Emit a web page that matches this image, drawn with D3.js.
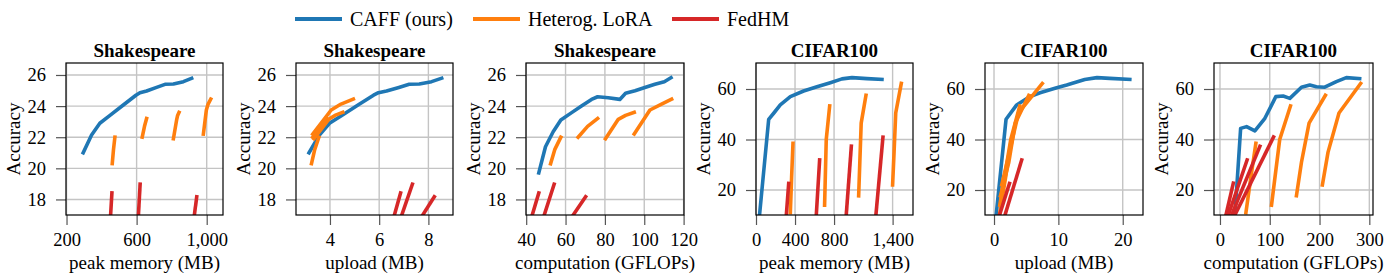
<!DOCTYPE html>
<html>
<head>
<meta charset="utf-8">
<script src="https://cdn.jsdelivr.net/npm/d3@7"></script>
<style>
  body { margin: 0; background: #fff; }
  svg, svg text { font-family: "Liberation Serif", "Times New Roman", Times, "Nimbus Roman", "DejaVu Serif", serif; }
  svg { display: block; }
</style>
</head>
<body>
<svg id="chart" width="1393" height="280"></svg>
<script>
// ---- data ([x, accuracy]) ----
const seriesNames = ['CAFF (ours)', 'Heterog. LoRA', 'FedHM'];
const seriesColors = ['#1f77b4', '#ff7f0e', '#d62728'];

// Shakespeare, peak memory (MB)
const shkMemCaff = [[295,21.0],[343,22.14],[390,22.9],[448,23.4],[524,24.07],[596,24.7],[619,24.86],[657,24.97],[714,25.2],[762,25.4],[810,25.42],[867,25.57],[914,25.79]];
const shkMemLora = [
  [[461,20.3],[468,21.2],[476,22.0]],
  [[632,22.0],[645,22.7],[657,23.2]],
  [[810,21.9],[829,23.15],[834,23.4],[842,23.6]],
  [[981,22.2],[998,23.75],[1008,24.13],[1023,24.45]]
];
const shkMemFedhm = [[[449,16.5],[459,18.42]], [[608,16.5],[620,18.98]], [[924,16.5],[943,18.17]]];

// Shakespeare, upload (MB)
const shkUpCaff = [[3.15,21.0],[3.57,22.14],[3.98,22.9],[4.48,23.4],[5.14,24.07],[5.77,24.7],[5.97,24.86],[6.30,24.97],[6.80,25.2],[7.22,25.4],[7.63,25.42],[8.13,25.57],[8.54,25.79]];
const shkUpLora = [
  [[3.25,20.3],[3.38,21.2],[3.55,22.0]],
  [[3.3,22.0],[3.6,22.7],[3.88,23.2]],
  [[3.35,21.9],[3.95,23.15],[4.2,23.4],[4.52,23.6]],
  [[3.3,22.2],[4.05,23.75],[4.45,24.13],[4.95,24.45]]
];
const shkUpFedhm = [[[6.53,16.5],[6.87,18.42]], [[6.81,16.5],[7.35,18.98]], [[7.57,16.5],[8.24,18.17]]];

// Shakespeare, computation (GFLOPs)
const shkCompCaff = [[46.4,19.71],[49.8,21.39],[53.7,22.35],[57.6,23.1],[63.1,23.58],[68.1,24.0],[73.2,24.43],[76.3,24.6],[81.7,24.54],[87.6,24.43],[90.5,24.82],[95.3,24.99],[100.3,25.2],[105.4,25.4],[110.2,25.57],[113.6,25.83]];
const shkCompLora = [
  [[52.4,20.3],[54.5,21.2],[57.6,22.0]],
  [[66.4,22.0],[71.2,22.7],[76.3,23.2]],
  [[80.3,21.9],[86.8,23.15],[90.5,23.4],[94.9,23.6]],
  [[94.9,22.2],[102.9,23.75],[108.8,24.13],[113.9,24.45]]
];
const shkCompFedhm = [[[41.9,16.5],[46.4,18.42]], [[47.9,16.5],[54.2,18.98]], [[61.2,16.5],[70.2,18.17]]];

// CIFAR100, peak memory (MB)
const cifMemCaff = [[31,8],[130,48.0],[181,50.4],[249,53.7],[352,57.0],[488,59.2],[625,60.9],[762,62.5],[881,64.0],[984,64.5],[1137,64.1],[1291,63.8]];
const cifMemLora = [
  [[352,11],[365,25],[379,38.5]],
  [[703,14],[720,40],[755,53.3]],
  [[1052,17.7],[1064,31],[1078,46.5],[1127,57.5]],
  [[1400,22],[1415,35],[1432,50.5],[1489,62.2]]
];
const cifMemFedhm = [[[301,5],[335,22.6]], [[610,5],[652,31.9]], [[915,5],[977,37.4]], [[1217,5],[1301,40.9]]];

// CIFAR100, upload (MB)
const cifUpCaff = [[0.25,8],[1.87,48.0],[3.52,53.7],[5.6,57.0],[7.15,58.5],[9.74,60.5],[11.3,61.6],[14.1,63.8],[16.0,64.5],[18.0,64.2],[21.1,63.8]];
const cifUpLora = [
  [[0.9,11],[1.8,25],[2.6,38.5]],
  [[0.9,14],[2.6,40],[4.0,53.3]],
  [[1.0,17.7],[2.3,31],[3.3,46.5],[5.4,57.5]],
  [[1.2,22],[2.4,35],[3.8,50.5],[7.5,62.2]]
];
const cifUpFedhm = [[[0.23,5],[2.4,22.6]], [[1.1,5],[4.3,31.9]]];

// CIFAR100, computation (GFLOPs)
const cifCompCaff = [[29.4,8],[41.5,44.4],[53.4,45.1],[70.1,43.4],[90.2,48.4],[112.2,57.0],[126.9,57.2],[140.3,56.3],[163.7,60.7],[180.4,61.6],[193.7,60.9],[210.4,60.7],[233.8,62.9],[253.8,64.5],[280.6,64.1]];
const cifCompLora = [
  [[52.1,11],[62,25],[72.1,38.5]],
  [[103.5,14],[120,40],[141.6,53.3]],
  [[153.6,17.7],[163.7,31],[179,46.5],[211.8,57.5]],
  [[205.7,22],[217.1,35],[239.1,50.5],[282.6,62.2]]
];
const cifCompFedhm = [[[6,5],[26.8,22.7]], [[8,5],[54.5,31.9]], [[12.7,5],[80.2,37.3]], [[17.2,5],[107.6,41]]];

// axis ticks
const shkYTicks = [18, 20, 22, 24, 26];
const cifYTicks = [20, 40, 60];
const shkMemTicks = [200, 600, 1000];
const shkUpTicks = [4, 6, 8];
const shkCompTicks = [40, 60, 80, 100, 120];
const cifMemTicks = [0, 400, 800, 1400];
const cifUpTicks = [0, 10, 20];
const cifCompTicks = [0, 100, 200, 300];

// ---- layout ----
const plotTop = 63, plotBottom = 215;
const serif = '"Liberation Serif", "Times New Roman", Times, "DejaVu Serif", serif';
const panels = [
  { title: 'Shakespeare', xLabel: 'peak memory (MB)', left: 66, right: 223, xDomain: [197, 1093], xTicks: shkMemTicks, yDomain: [17, 26.77], yTicks: shkYTicks, data: [[shkMemCaff], shkMemLora, shkMemFedhm] },
  { title: 'Shakespeare', xLabel: 'upload (MB)', left: 296, right: 453, xDomain: [2.62, 9.0], xTicks: shkUpTicks, yDomain: [17, 26.77], yTicks: shkYTicks, data: [[shkUpCaff], shkUpLora, shkUpFedhm] },
  { title: 'Shakespeare', xLabel: 'computation (GFLOPs)', left: 526, right: 684, xDomain: [39.9, 120.2], xTicks: shkCompTicks, yDomain: [17, 26.77], yTicks: shkYTicks, data: [[shkCompCaff], shkCompLora, shkCompFedhm] },
  { title: 'CIFAR100', xLabel: 'peak memory (MB)', left: 756, right: 913, xDomain: [0, 1609], xTicks: cifMemTicks, yDomain: [10.1, 70.3], yTicks: cifYTicks, data: [[cifMemCaff], cifMemLora, cifMemFedhm] },
  { title: 'CIFAR100', xLabel: 'upload (MB)', left: 985, right: 1143, xDomain: [-1.4, 23.15], xTicks: cifUpTicks, yDomain: [10.1, 70.3], yTicks: cifYTicks, data: [[cifUpCaff], cifUpLora, cifUpFedhm] },
  { title: 'CIFAR100', xLabel: 'computation (GFLOPs)', left: 1214, right: 1373, xDomain: [-12, 307.4], xTicks: cifCompTicks, yDomain: [10.1, 70.3], yTicks: cifYTicks, data: [[cifCompCaff], cifCompLora, cifCompFedhm] }
];

const svg = d3.select('#chart').attr('font-family', serif);
const defs = svg.append('defs');
const fmt = d3.format(',');

panels.forEach((p, i) => {
  const x = d3.scaleLinear().domain(p.xDomain).range([p.left, p.right]);
  const y = d3.scaleLinear().domain(p.yDomain).range([plotBottom, plotTop]);
  const g = svg.append('g');

  defs.append('clipPath').attr('id', 'clip' + i)
    .append('rect')
    .attr('x', p.left).attr('y', plotTop)
    .attr('width', p.right - p.left).attr('height', plotBottom - plotTop);

  // grid
  g.append('g').selectAll('line').data(p.xTicks).join('line')
    .attr('x1', d => x(d)).attr('x2', d => x(d))
    .attr('y1', plotTop).attr('y2', plotBottom)
    .attr('stroke', '#c4c4c4').attr('stroke-width', 1.4);
  g.append('g').selectAll('line').data(p.yTicks).join('line')
    .attr('x1', p.left).attr('x2', p.right)
    .attr('y1', d => y(d)).attr('y2', d => y(d))
    .attr('stroke', '#c4c4c4').attr('stroke-width', 1.4);

  // series lines: CAFF, Heterog. LoRA, FedHM
  const line = d3.line().x(d => x(d[0])).y(d => y(d[1]));
  const plot = g.append('g').attr('clip-path', `url(#clip${i})`);
  p.data.forEach((segs, s) => {
    plot.append('g').selectAll('path').data(segs).join('path')
      .attr('d', line)
      .attr('fill', 'none')
      .attr('stroke', seriesColors[s])
      .attr('stroke-width', 3.6)
      .attr('stroke-linejoin', 'round')
      .attr('stroke-linecap', 'square');
  });

  // axes
  const xAxis = g.append('g')
    .attr('transform', `translate(0,${plotBottom})`)
    .call(d3.axisBottom(x).tickValues(p.xTicks).tickFormat(fmt).tickSize(10).tickPadding(8));
  const yAxis = g.append('g')
    .attr('transform', `translate(${p.left},0)`)
    .call(d3.axisLeft(y).tickValues(p.yTicks).tickSize(10).tickPadding(10));
  [xAxis, yAxis].forEach(a => {
    a.attr('font-family', serif).attr('font-size', 18.5);
    a.select('.domain').remove();
    a.selectAll('.tick line').attr('stroke', '#555').attr('stroke-width', 1.2);
    a.selectAll('.tick text').attr('fill', '#000');
  });

  // frame
  g.append('rect')
    .attr('x', p.left).attr('y', plotTop)
    .attr('width', p.right - p.left).attr('height', plotBottom - plotTop)
    .attr('fill', 'none').attr('stroke', '#000').attr('stroke-width', 1.2);

  // texts
  const cx = (p.left + p.right) / 2;
  g.append('text').attr('x', cx).attr('y', 57)
    .attr('text-anchor', 'middle')
    .attr('font-size', 19).attr('font-weight', 'bold')
    .text(p.title);
  g.append('text').attr('x', cx).attr('y', 269)
    .attr('text-anchor', 'middle')
    .attr('font-size', 19)
    .text(p.xLabel);
  g.append('text')
    .attr('transform', `translate(${p.left - 46},${(plotTop + plotBottom) / 2}) rotate(-90)`)
    .attr('text-anchor', 'middle')
    .attr('font-size', 19)
    .text('Accuracy');
});

// legend
const legendX = [295, 473, 672];
const legend = svg.append('g');
seriesNames.forEach((name, i) => {
  legend.append('line')
    .attr('x1', legendX[i]).attr('x2', legendX[i] + 47)
    .attr('y1', 19).attr('y2', 19)
    .attr('stroke', seriesColors[i]).attr('stroke-width', 4);
  legend.append('text')
    .attr('x', legendX[i] + 55).attr('y', 25.5)
    .attr('font-size', 20)
    .text(name);
});
</script>
</body>
</html>
